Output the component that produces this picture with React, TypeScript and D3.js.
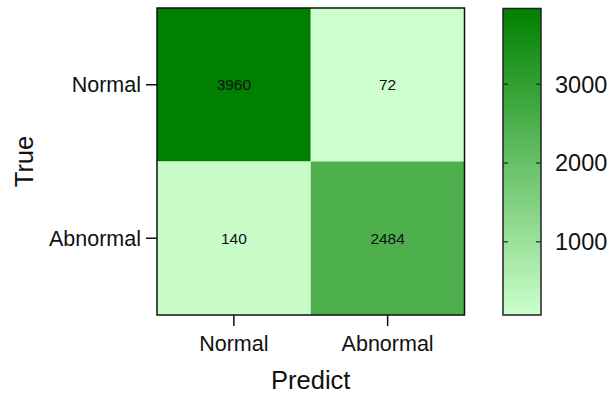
import React from "react";
import * as d3 from "d3";

const trueLabels = ["Normal", "Abnormal"];
const predLabels = ["Normal", "Abnormal"];
const matrix = [
  [3960, 72],
  [140, 2484],
];
const colorbarTicks = [1000, 2000, 3000];

export default function App() {
  const W = 612, H = 395;
  const plot = { x0: 157, x1: 464.5, y0: 8, y1: 315 };
  const cb = { x0: 503, x1: 541, y0: 8.5, y1: 315 };
  const all = matrix.flat();
  const vmin = d3.min(all)!, vmax = d3.max(all)!;
  const color = d3.scaleLinear<string>().domain([vmin, vmax]).range(["#ccffcc", "#008000"]).interpolate(d3.interpolateRgb);
  const x = d3.scaleBand().domain(predLabels).range([plot.x0, plot.x1]);
  const y = d3.scaleBand().domain(trueLabels).range([plot.y0, plot.y1]);
  const cy = d3.scaleLinear().domain([vmin, vmax]).range([cb.y1, cb.y0]);
  const stops = d3.range(0, 1.0001, 0.1);
  const font = "Liberation Sans, Arial, sans-serif";

  return (
    <svg width={W} height={H} style={{ position: "absolute", left: 0, top: 0 }} fontFamily={font}>
      <defs>
        <linearGradient id="cbg" x1="0" y1="1" x2="0" y2="0">
          {stops.map((s) => (
            <stop key={s} offset={s} stopColor={color(vmin + s * (vmax - vmin))} />
          ))}
        </linearGradient>
      </defs>
      {matrix.map((row, i) =>
        row.map((v, j) => (
          <g key={`${i}-${j}`}>
            <rect x={x(predLabels[j])} y={y(trueLabels[i])} width={x.bandwidth()} height={y.bandwidth()} fill={color(v)} />
            <text
              x={x(predLabels[j])! + x.bandwidth() / 2}
              y={y(trueLabels[i])! + y.bandwidth() / 2}
              dy="0.36em"
              textAnchor="middle"
              fontSize={15.5}
              fill="#111"
            >
              {v}
            </text>
          </g>
        ))
      )}
      <rect x={plot.x0} y={plot.y0} width={plot.x1 - plot.x0} height={plot.y1 - plot.y0} fill="none" stroke="#111" strokeWidth={1.5} />
      {trueLabels.map((l) => {
        const yy = y(l)! + y.bandwidth() / 2;
        return (
          <g key={"y" + l}>
            <line x1={plot.x0 - 11} x2={plot.x0} y1={yy} y2={yy} stroke="#111" strokeWidth={1.5} />
            <text x={plot.x0 - 16} y={yy} dy="0.36em" textAnchor="end" fontSize={21.5} fill="#111">
              {l}
            </text>
          </g>
        );
      })}
      {predLabels.map((l) => {
        const xx = x(l)! + x.bandwidth() / 2;
        return (
          <g key={"x" + l}>
            <line x1={xx} x2={xx} y1={plot.y1} y2={plot.y1 + 11} stroke="#111" strokeWidth={1.5} />
            <text x={xx} y={351} textAnchor="middle" fontSize={21.5} fill="#111">
              {l}
            </text>
          </g>
        );
      })}
      <text x={(plot.x0 + plot.x1) / 2} y={389} textAnchor="middle" fontSize={25.5} fill="#111">
        Predict
      </text>
      <text transform={`translate(33,${(plot.y0 + plot.y1) / 2}) rotate(-90)`} textAnchor="middle" fontSize={25.5} fill="#111">
        True
      </text>
      <rect x={cb.x0} y={cb.y0} width={cb.x1 - cb.x0} height={cb.y1 - cb.y0} fill="url(#cbg)" stroke="#222" strokeWidth={1.5} />
      {colorbarTicks.map((t) => (
        <g key={"c" + t}>
          <line x1={cb.x0} x2={cb.x0 + 5} y1={cy(t)} y2={cy(t)} stroke="#222" strokeWidth={1.2} />
          <line x1={cb.x1 - 5} x2={cb.x1} y1={cy(t)} y2={cy(t)} stroke="#222" strokeWidth={1.2} />
          <text x={555} y={cy(t)} dy="0.36em" fontSize={23.5} fill="#111">
            {t}
          </text>
        </g>
      ))}
    </svg>
  );
}
